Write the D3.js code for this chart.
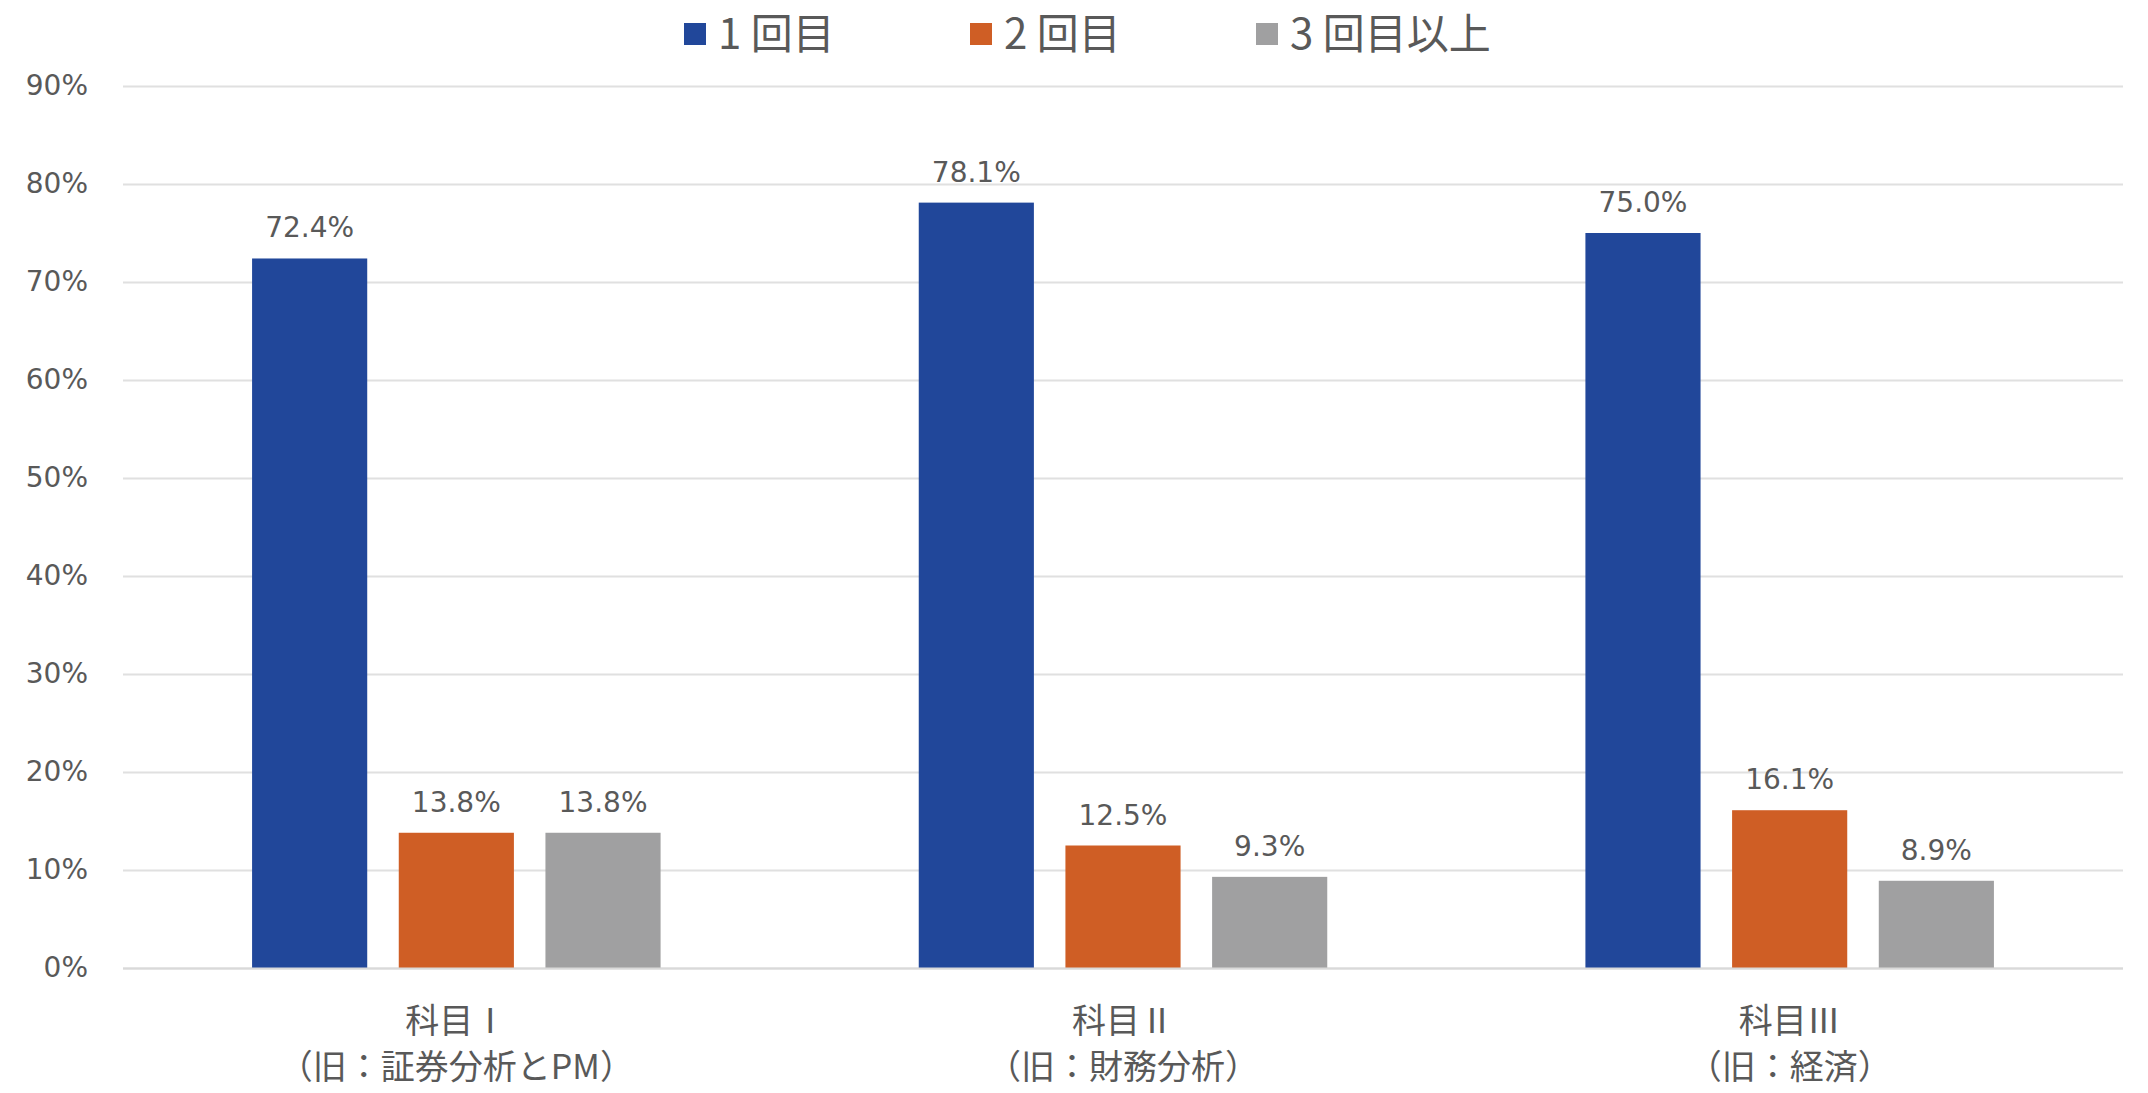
<!DOCTYPE html>
<html><head><meta charset="utf-8">
<script src="https://cdn.jsdelivr.net/npm/d3@7"></script>
<style>
html,body{margin:0;padding:0;background:#fff;}
svg{display:block;}
</style></head>
<body>
<svg id="chart" width="2148" height="1093"></svg>
<script>
const categories = ["科目Ⅰ", "科目Ⅱ", "科目Ⅲ"];
const categorySub = ["（旧：証券分析とPM）", "（旧：財務分析）", "（旧：経済）"];
const seriesNames = ["1 回目", "2 回目", "3 回目以上"];
const series1 = [72.4, 78.1, 75.0];
const series2 = [13.8, 12.5, 16.1];
const series3 = [13.8, 9.3, 8.9];
const yTicks = [0, 10, 20, 30, 40, 50, 60, 70, 80, 90];
const colors = ["#21479A", "#CF5E25", "#A0A0A1"];

const allSeries = [series1, series2, series3];
const W = 2148, H = 1093;
const m = {left: 123, right: 25, top: 86, bottom: 125};
const svg = d3.select("#chart");
const numFont = "'DejaVu Sans', sans-serif";
const jpFont = "'Noto Sans CJK JP', sans-serif";
const textColor = "#595959";

const x0 = d3.scaleBand().domain(categories).range([m.left, W - m.right]).paddingInner(0).paddingOuter(0);
const x1 = d3.scaleBand().domain(d3.range(3)).range([0, x0.bandwidth()]).paddingInner(0.215).paddingOuter(0.88);
const y = d3.scaleLinear().domain([0, 90]).range([H - m.bottom, m.top]);

// gridlines
svg.append("g").selectAll("line").data(yTicks).join("line")
  .attr("x1", m.left).attr("x2", W - m.right)
  .attr("y1", d => Math.round(y(d)) + 0.5).attr("y2", d => Math.round(y(d)) + 0.5)
  .attr("stroke", "#E0E0E0").attr("stroke-width", 2);

// y axis labels
const yAxis = d3.axisLeft(y).tickValues(yTicks).tickFormat(d => d + "%").tickSize(0).tickPadding(0);
const gy = svg.append("g").attr("transform", `translate(${m.left - 35},0)`).call(yAxis);
gy.select(".domain").remove();
gy.selectAll("text").attr("font-family", numFont).attr("font-size", 28).attr("fill", textColor);

// bars
const groups = svg.append("g").selectAll("g").data(categories).join("g")
  .attr("transform", d => `translate(${x0(d)},0)`);
groups.each(function(cat, ci) {
  const g = d3.select(this);
  const data = allSeries.map((s, si) => ({si, v: s[ci]}));
  g.selectAll("rect").data(data).join("rect")
    .attr("x", d => x1(d.si)).attr("width", x1.bandwidth())
    .attr("y", d => y(d.v)).attr("height", d => y(0) - y(d.v))
    .attr("fill", d => colors[d.si]);
  g.selectAll("text").data(data).join("text")
    .attr("x", d => x1(d.si) + x1.bandwidth() / 2)
    .attr("y", d => y(d.v) - 21)
    .attr("text-anchor", "middle")
    .attr("font-family", numFont).attr("font-size", 28).attr("fill", textColor)
    .text(d => d.v.toFixed(1) + "%");
});

// baseline
svg.append("line").attr("x1", m.left).attr("x2", W - m.right)
  .attr("y1", Math.round(y(0)) + 0.5).attr("y2", Math.round(y(0)) + 0.5)
  .attr("stroke", "#D9D9D9").attr("stroke-width", 2);

// x labels
const xl = svg.append("g").selectAll("g").data(categories).join("g")
  .attr("transform", d => `translate(${x0(d) + x0.bandwidth() / 2},0)`);
xl.append("text").attr("y", y(0) + 65).attr("text-anchor", "middle")
  .attr("font-family", jpFont).attr("font-size", 34).attr("fill", textColor)
  .text(d => d);
xl.append("text").attr("y", y(0) + 111).attr("text-anchor", "middle")
  .attr("font-family", jpFont).attr("font-size", 34).attr("fill", textColor)
  .text((d, i) => categorySub[i]);

// legend
const legendX = [684, 970, 1256];
const lg = svg.append("g").selectAll("g").data(seriesNames).join("g")
  .attr("transform", (d, i) => `translate(${legendX[i]},34)`);
lg.append("rect").attr("x", 0).attr("y", -11).attr("width", 22).attr("height", 22)
  .attr("fill", (d, i) => colors[i]);
lg.append("text").attr("x", 34).attr("y", 15).attr("font-family", jpFont)
  .attr("font-size", 42).attr("fill", textColor).text(d => d);
</script>
</body></html>
